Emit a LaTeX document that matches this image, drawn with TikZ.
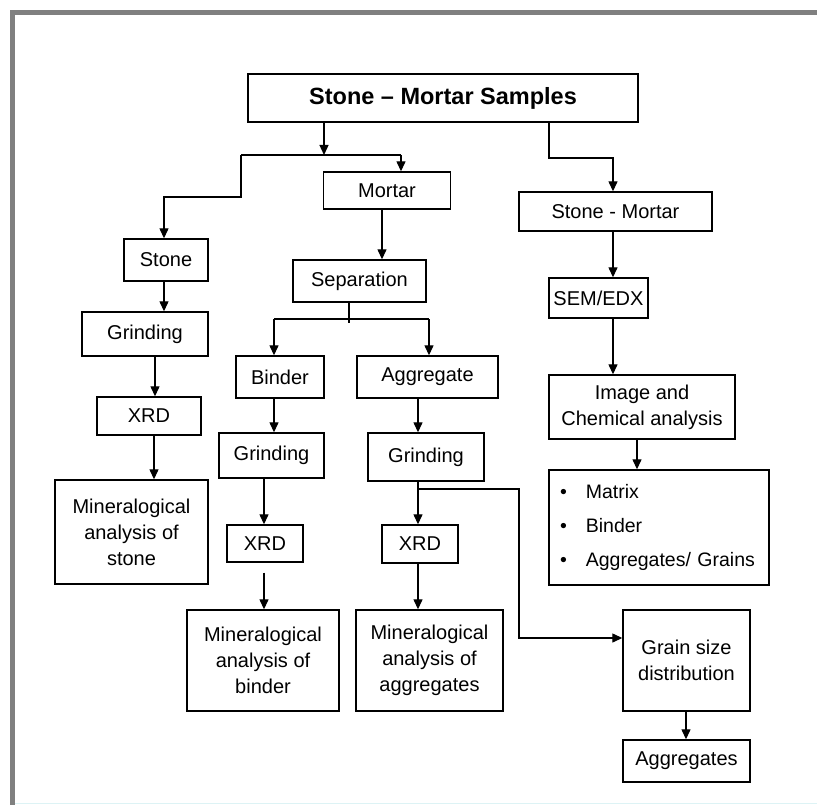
\documentclass[tikz,border=0pt]{standalone}
\usepackage{fontspec}
\setmainfont{Liberation Sans}
\usetikzlibrary{arrows.meta}
\definecolor{framegray}{HTML}{808080}
\definecolor{edgecyan}{HTML}{DDF3F5}

\begin{document}
\begin{tikzpicture}[x=1pt,y=-1pt,
  box/.style={draw,line width=1.4pt,inner sep=2pt,align=center,font=\fontsize{20}{26}\selectfont},
  arr/.style={line width=1.3pt,-{Triangle[length=10pt,width=9pt]}},
  lne/.style={line width=1.3pt}]
\useasboundingbox (0,0) rectangle (817,805);
% frame
\fill[framegray] (10,10) rectangle (817,15);
\fill[framegray] (10,10) rectangle (15,805);
\draw[edgecyan,line width=1.5pt] (15,803.5) -- (817,803.5);
% boxes
\node[box,minimum width=390,minimum height=48,font=\bfseries\fontsize{23.5}{26}\selectfont] (top) at (443,98) {Stone – Mortar Samples};
\node[box,minimum width=127,minimum height=37] (mortar) at (387,190.5) {Mortar};
\node[box,minimum width=84,minimum height=42] (stone) at (166,260) {Stone};
\node[box,minimum width=193,minimum height=39] (stmor) at (615.5,211.5) {Stone - Mortar};
\node[box,minimum width=133,minimum height=42] (separ) at (359.5,281) {Separation};
\node[box,minimum width=99,minimum height=40] (semedx) at (598.5,298) {SEM/EDX};
\node[box,minimum width=126,minimum height=44] (grindA) at (145,334) {Grinding};
\node[box,minimum width=104,minimum height=38] (xrdA) at (149,416) {XRD};
\node[box,minimum width=153,minimum height=104] (minA) at (131.5,532) {Mineralogical\\analysis of\\stone};
\node[box,minimum width=88,minimum height=42] (binder) at (280,377) {Binder};
\node[box,minimum width=141,minimum height=42] (aggr) at (427.5,377) {Aggregate};
\node[box,minimum width=105,minimum height=45] (grindB) at (271.5,455.5) {Grinding};
\node[box,minimum width=116,minimum height=48] (grindC) at (426,457) {Grinding};
\node[box,minimum width=76,minimum height=37] (xrdB) at (265,543.5) {XRD};
\node[box,minimum width=76,minimum height=38] (xrdC) at (420,544) {XRD};
\node[box,minimum width=152,minimum height=101] (minB) at (263,660.5) {Mineralogical\\analysis of\\binder};
\node[box,minimum width=147,minimum height=101] (minC) at (429.5,660.5) {Mineralogical\\analysis of\\aggregates};
\node[box,minimum width=186,minimum height=64] (imgchem) at (642,407) {Image and\\Chemical analysis};
\node[box,minimum width=220,minimum height=115,align=left,text width=198,inner xsep=11,font=\fontsize{19.5}{34}\selectfont] (phases) at (659,527.5) {\textbullet\hspace{19pt}Matrix\\\textbullet\hspace{19pt}Binder\\\textbullet\hspace{19pt}Aggregates/ Grains};
\node[box,minimum width=127,minimum height=101] (grain) at (686.5,660.5) {Grain size\\distribution};
\node[box,minimum width=127,minimum height=42] (aggs) at (686.5,761) {Aggregates};
% top branches
\coordinate (jM) at (324,155);
\coordinate (jL) at (241,155);
\coordinate (jR) at (401,155);
\coordinate (kL) at (241,197);
\coordinate (jS) at (549,158);
\draw[arr] (top.south -| jM) -- (jM);
\draw[lne] (jL) -- (jR);
\draw[arr] (jR) -- (jR |- mortar.north);
\draw[arr] (jL) -- (kL) -| (stone.north -| 164,0);
\draw[arr] (top.south -| jS) -- (jS) -| (stmor.north -| 613,0);
% straight arrows
\foreach \a/\b/\x in {stone/grindA/164, grindA/xrdA/155, xrdA/minA/154,
  mortar/separ/382, binder/grindB/274, grindB/xrdB/264, aggr/grindC/418,
  grindC/xrdC/418, xrdC/minC/418, stmor/semedx/613, semedx/imgchem/613,
  imgchem/phases/637, grain/aggs/686}
  \draw[arr] (\a.south -| \x,0) -- (\b.north -| \x,0);
\draw[arr,shorten <=10pt] (xrdB.south -| 264,0) -- (minB.north -| 264,0);
% separation split
\coordinate (sJ) at (349,319);
\coordinate (sB) at (274,319);
\coordinate (sC) at (429,319);
\draw[lne] (separ.south -| sJ) -- ([yshift=-4pt]sJ);
\draw[lne] (sB) -- (sC);
\draw[arr] (sB) -- (sB |- binder.north);
\draw[arr] (sC) -- (sC |- aggr.north);
% grain size
\coordinate (gA) at (418,489);
\coordinate (gB) at (519,638);
\draw[arr] (gA) -| (gB) -- (gB -| grain.west);
\end{tikzpicture}
\end{document}
